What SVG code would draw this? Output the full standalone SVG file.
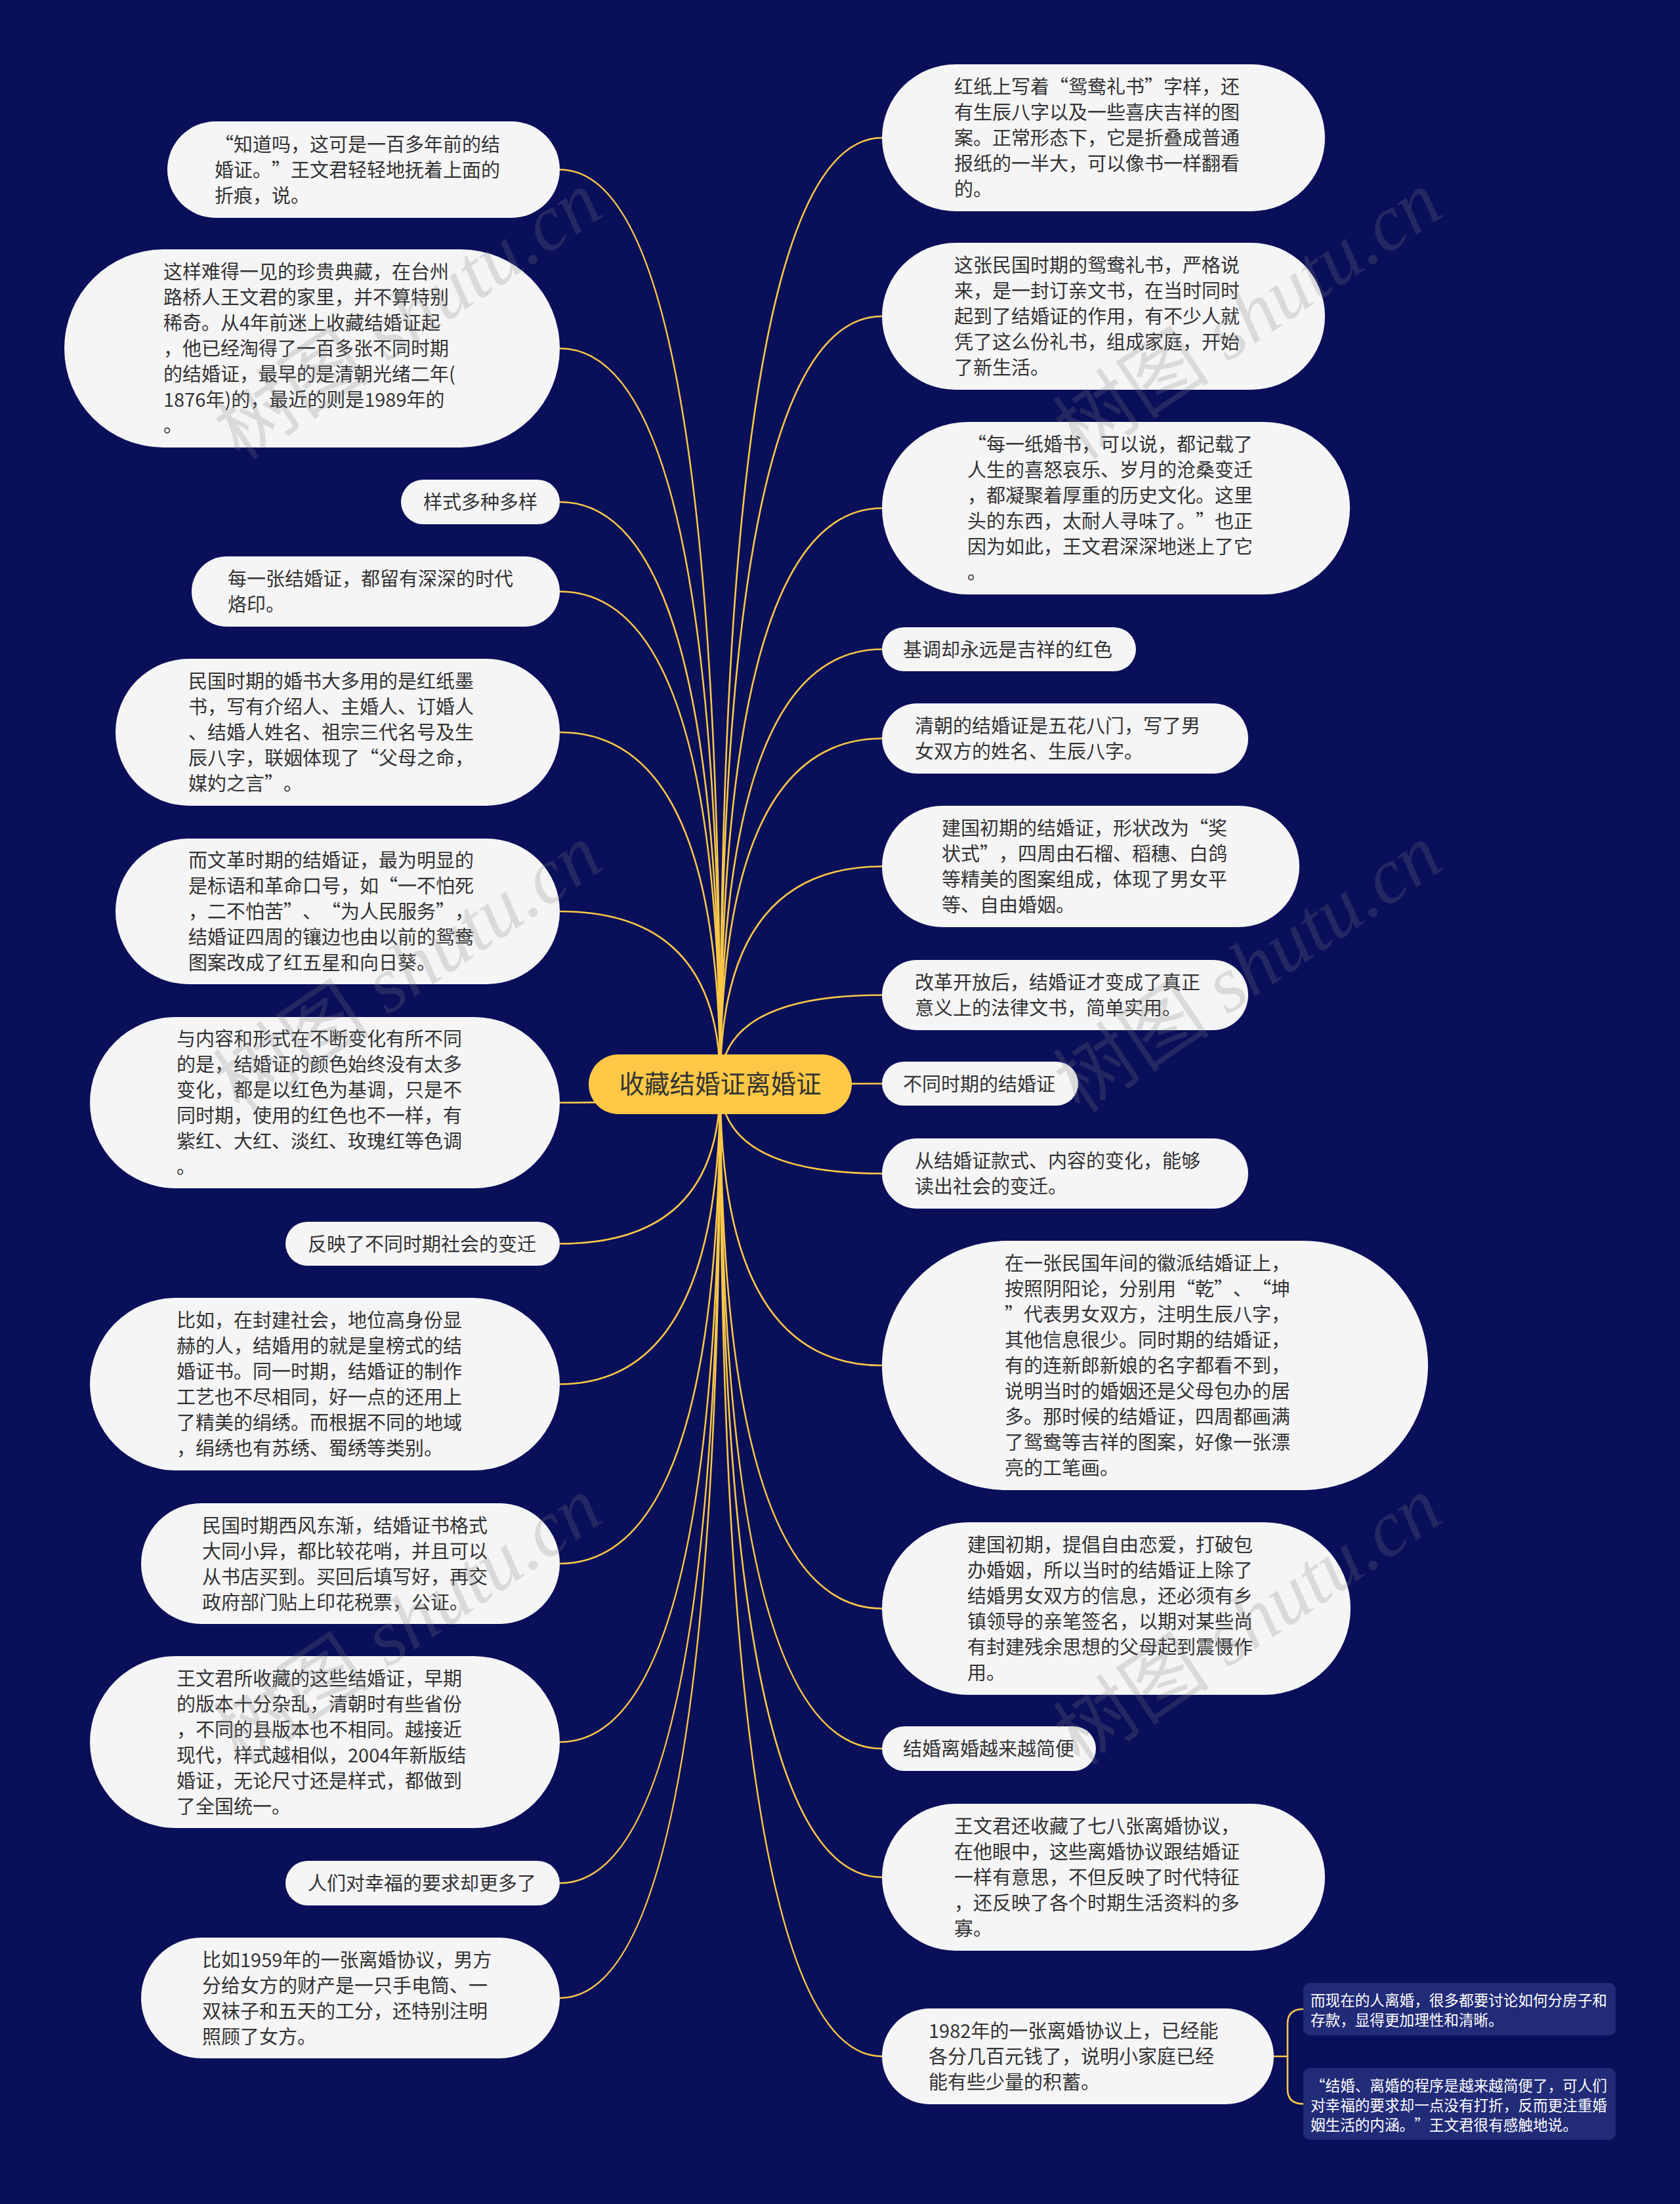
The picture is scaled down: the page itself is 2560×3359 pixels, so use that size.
<svg xmlns="http://www.w3.org/2000/svg" width="2560" height="3359" viewBox="0 0 2560 3359">
<style>
.bg{fill:#0a0f5a}
.node{fill:#f5f5f6}
.t{font-family:"Noto Sans CJK SC","Liberation Sans",sans-serif;font-size:29px;fill:#333333}
.root{fill:#fcc846}
.rt{font-family:"Noto Sans CJK SC","Liberation Sans",sans-serif;font-size:38.5px;fill:#333333}
.sub{fill:#222b78}
.st{font-family:"Noto Sans CJK SC","Liberation Sans",sans-serif;font-size:22.6px;fill:#ffffff}
.link{fill:none;stroke:#fcc846;stroke-width:2.6}
.wm{font-family:"Liberation Serif","Noto Sans CJK SC",serif;font-size:120px;fill:#808080;opacity:0.22}
</style>
<rect class="bg" x="0" y="0" width="2560" height="3359"/>
<g id="connectors">
<path class="link" d="M1097.5 1652 Q1097.5 258.5 853 258.5"/>
<path class="link" d="M1097.5 1652 Q1097.5 531 853 531"/>
<path class="link" d="M1097.5 1652 Q1097.5 765 853 765"/>
<path class="link" d="M1097.5 1652 Q1097.5 901.5 853 901.5"/>
<path class="link" d="M1097.5 1652 Q1097.5 1116 853 1116"/>
<path class="link" d="M1097.5 1652 Q1097.5 1389 853 1389"/>
<path class="link" d="M1097.5 1652 Q1097.5 1680.5 853 1680.5"/>
<path class="link" d="M1097.5 1652 Q1097.5 1895.5 853 1895.5"/>
<path class="link" d="M1097.5 1652 Q1097.5 2109.5 853 2109.5"/>
<path class="link" d="M1097.5 1652 Q1097.5 2383 853 2383"/>
<path class="link" d="M1097.5 1652 Q1097.5 2655 853 2655"/>
<path class="link" d="M1097.5 1652 Q1097.5 2870 853 2870"/>
<path class="link" d="M1097.5 1652 Q1097.5 3045 853 3045"/>
<path class="link" d="M1097.5 1652 Q1097.5 210 1344 210"/>
<path class="link" d="M1097.5 1652 Q1097.5 482 1344 482"/>
<path class="link" d="M1097.5 1652 Q1097.5 774.5 1344 774.5"/>
<path class="link" d="M1097.5 1652 Q1097.5 989.5 1344 989.5"/>
<path class="link" d="M1097.5 1652 Q1097.5 1125.5 1344 1125.5"/>
<path class="link" d="M1097.5 1652 Q1097.5 1320.5 1344 1320.5"/>
<path class="link" d="M1097.5 1652 Q1097.5 1516.5 1344 1516.5"/>
<path class="link" d="M1097.5 1652 Q1097.5 1651.5 1344 1651.5"/>
<path class="link" d="M1097.5 1652 Q1097.5 1788.5 1344 1788.5"/>
<path class="link" d="M1097.5 1652 Q1097.5 2081 1344 2081"/>
<path class="link" d="M1097.5 1652 Q1097.5 2451.5 1344 2451.5"/>
<path class="link" d="M1097.5 1652 Q1097.5 2665 1344 2665"/>
<path class="link" d="M1097.5 1652 Q1097.5 2861 1344 2861"/>
<path class="link" d="M1097.5 1652 Q1097.5 3134 1344 3134"/>
<path class="link" d="M1941 3134 H1962 M1962 3134 V3084 Q1962 3062 1986 3062 M1962 3134 V3184 Q1962 3206.5 1986 3206.5"/>
</g>
<g id="root">
<rect class="root" x="897" y="1607" width="401" height="91" rx="45.5"/>
<text class="rt" x="1097.5" y="1666" text-anchor="middle">收藏结婚证离婚证</text>
</g>
<g id="n1"><rect class="node" x="255" y="185" width="598" height="147" rx="73.5"/>
<text class="t"><tspan x="327" y="230.5">“</tspan><tspan x="356" y="230.5">知道吗，这可是一百多年前的结</tspan><tspan x="327" y="269.5">婚证。</tspan><tspan x="414" y="269.5">”</tspan><tspan x="443" y="269.5">王文君轻轻地抚着上面的</tspan><tspan x="327" y="308.5">折痕，说。</tspan></text></g>
<g id="n2"><rect class="node" x="98" y="380" width="755" height="302" rx="151"/>
<text class="t"><tspan x="249" y="425">这样难得一见的珍贵典藏，在台州</tspan><tspan x="249" y="464">路桥人王文君的家里，并不算特别</tspan><tspan x="249" y="503">稀奇。从4年前迷上收藏结婚证起</tspan><tspan x="249" y="542">，他已经淘得了一百多张不同时期</tspan><tspan x="249" y="581">的结婚证，最早的是清朝光绪二年(</tspan><tspan x="249" y="620">1876年)的，最近的则是1989年的</tspan><tspan x="249" y="659">。</tspan></text></g>
<g id="n3"><rect class="node" x="611" y="731" width="242" height="68" rx="34"/>
<text class="t"><tspan x="645" y="776">样式多种多样</tspan></text></g>
<g id="n4"><rect class="node" x="292" y="848" width="561" height="107" rx="53.5"/>
<text class="t"><tspan x="347" y="893">每一张结婚证，都留有深深的时代</tspan><tspan x="347" y="932">烙印。</tspan></text></g>
<g id="n5"><rect class="node" x="176" y="1004" width="677" height="224" rx="112"/>
<text class="t"><tspan x="287" y="1049">民国时期的婚书大多用的是红纸墨</tspan><tspan x="287" y="1088">书，写有介绍人、主婚人、订婚人</tspan><tspan x="287" y="1127">、结婚人姓名、祖宗三代名号及生</tspan><tspan x="287" y="1166">辰八字，联姻体现了</tspan><tspan x="548" y="1166">“</tspan><tspan x="577" y="1166">父母之命，</tspan><tspan x="287" y="1205">媒妁之言</tspan><tspan x="403" y="1205">”</tspan><tspan x="432" y="1205">。</tspan></text></g>
<g id="n6"><rect class="node" x="176" y="1278" width="677" height="222" rx="111"/>
<text class="t"><tspan x="287" y="1322">而文革时期的结婚证，最为明显的</tspan><tspan x="287" y="1361">是标语和革命口号，如</tspan><tspan x="577" y="1361">“</tspan><tspan x="606" y="1361">一不怕死</tspan><tspan x="287" y="1400">，二不怕苦</tspan><tspan x="432" y="1400">”</tspan><tspan x="461" y="1400">、</tspan><tspan x="490" y="1400">“</tspan><tspan x="519" y="1400">为人民服务</tspan><tspan x="664" y="1400">”</tspan><tspan x="693" y="1400">，</tspan><tspan x="287" y="1439">结婚证四周的镶边也由以前的鸳鸯</tspan><tspan x="287" y="1478">图案改成了红五星和向日葵。</tspan></text></g>
<g id="n7"><rect class="node" x="137" y="1550" width="716" height="261" rx="130.5"/>
<text class="t"><tspan x="269" y="1594">与内容和形式在不断变化有所不同</tspan><tspan x="269" y="1633">的是，结婚证的颜色始终没有太多</tspan><tspan x="269" y="1672">变化，都是以红色为基调，只是不</tspan><tspan x="269" y="1711">同时期，使用的红色也不一样，有</tspan><tspan x="269" y="1750">紫红、大红、淡红、玫瑰红等色调</tspan><tspan x="269" y="1789">。</tspan></text></g>
<g id="n8"><rect class="node" x="435" y="1862" width="418" height="67" rx="33.5"/>
<text class="t"><tspan x="469" y="1906.5">反映了不同时期社会的变迁</tspan></text></g>
<g id="n9"><rect class="node" x="137" y="1978" width="716" height="263" rx="131.5"/>
<text class="t"><tspan x="269" y="2023">比如，在封建社会，地位高身份显</tspan><tspan x="269" y="2062">赫的人，结婚用的就是皇榜式的结</tspan><tspan x="269" y="2101">婚证书。同一时期，结婚证的制作</tspan><tspan x="269" y="2140">工艺也不尽相同，好一点的还用上</tspan><tspan x="269" y="2179">了精美的绢绣。而根据不同的地域</tspan><tspan x="269" y="2218">，绢绣也有苏绣、蜀绣等类别。</tspan></text></g>
<g id="n10"><rect class="node" x="215" y="2291" width="638" height="184" rx="92"/>
<text class="t"><tspan x="308" y="2335.5">民国时期西风东渐，结婚证书格式</tspan><tspan x="308" y="2374.5">大同小异，都比较花哨，并且可以</tspan><tspan x="308" y="2413.5">从书店买到。买回后填写好，再交</tspan><tspan x="308" y="2452.5">政府部门贴上印花税票，公证。</tspan></text></g>
<g id="n11"><rect class="node" x="137" y="2524" width="716" height="262" rx="131"/>
<text class="t"><tspan x="269" y="2568.5">王文君所收藏的这些结婚证，早期</tspan><tspan x="269" y="2607.5">的版本十分杂乱，清朝时有些省份</tspan><tspan x="269" y="2646.5">，不同的县版本也不相同。越接近</tspan><tspan x="269" y="2685.5">现代，样式越相似，2004年新版结</tspan><tspan x="269" y="2724.5">婚证，无论尺寸还是样式，都做到</tspan><tspan x="269" y="2763.5">了全国统一。</tspan></text></g>
<g id="n12"><rect class="node" x="435" y="2836" width="418" height="68" rx="34"/>
<text class="t"><tspan x="469" y="2881">人们对幸福的要求却更多了</tspan></text></g>
<g id="n13"><rect class="node" x="215" y="2953" width="638" height="184" rx="92"/>
<text class="t"><tspan x="308" y="2997.5">比如1959年的一张离婚协议，男方</tspan><tspan x="308" y="3036.5">分给女方的财产是一只手电筒、一</tspan><tspan x="308" y="3075.5">双袜子和五天的工分，还特别注明</tspan><tspan x="308" y="3114.5">照顾了女方。</tspan></text></g>
<g id="r1"><rect class="node" x="1344" y="98" width="675" height="224" rx="112"/>
<text class="t"><tspan x="1454" y="143">红纸上写着</tspan><tspan x="1599" y="143">“</tspan><tspan x="1628" y="143">鸳鸯礼书</tspan><tspan x="1744" y="143">”</tspan><tspan x="1773" y="143">字样，还</tspan><tspan x="1454" y="182">有生辰八字以及一些喜庆吉祥的图</tspan><tspan x="1454" y="221">案。正常形态下，它是折叠成普通</tspan><tspan x="1454" y="260">报纸的一半大，可以像书一样翻看</tspan><tspan x="1454" y="299">的。</tspan></text></g>
<g id="r2"><rect class="node" x="1344" y="370" width="675" height="224" rx="112"/>
<text class="t"><tspan x="1454" y="415">这张民国时期的鸳鸯礼书，严格说</tspan><tspan x="1454" y="454">来，是一封订亲文书，在当时同时</tspan><tspan x="1454" y="493">起到了结婚证的作用，有不少人就</tspan><tspan x="1454" y="532">凭了这么份礼书，组成家庭，开始</tspan><tspan x="1454" y="571">了新生活。</tspan></text></g>
<g id="r3"><rect class="node" x="1344" y="643" width="713" height="263" rx="131.5"/>
<text class="t"><tspan x="1474" y="688">“</tspan><tspan x="1503" y="688">每一纸婚书，可以说，都记载了</tspan><tspan x="1474" y="727">人生的喜怒哀乐、岁月的沧桑变迁</tspan><tspan x="1474" y="766">，都凝聚着厚重的历史文化。这里</tspan><tspan x="1474" y="805">头的东西，太耐人寻味了。</tspan><tspan x="1822" y="805">”</tspan><tspan x="1851" y="805">也正</tspan><tspan x="1474" y="844">因为如此，王文君深深地迷上了它</tspan><tspan x="1474" y="883">。</tspan></text></g>
<g id="r4"><rect class="node" x="1344" y="956" width="387" height="67" rx="33.5"/>
<text class="t"><tspan x="1376" y="1000.5">基调却永远是吉祥的红色</tspan></text></g>
<g id="r5"><rect class="node" x="1344" y="1072" width="558" height="107" rx="53.5"/>
<text class="t"><tspan x="1394" y="1117">清朝的结婚证是五花八门，写了男</tspan><tspan x="1394" y="1156">女双方的姓名、生辰八字。</tspan></text></g>
<g id="r6"><rect class="node" x="1344" y="1228" width="636" height="185" rx="92.5"/>
<text class="t"><tspan x="1435" y="1273">建国初期的结婚证，形状改为</tspan><tspan x="1812" y="1273">“</tspan><tspan x="1841" y="1273">奖</tspan><tspan x="1435" y="1312">状式</tspan><tspan x="1493" y="1312">”</tspan><tspan x="1522" y="1312">，四周由石榴、稻穗、白鸽</tspan><tspan x="1435" y="1351">等精美的图案组成，体现了男女平</tspan><tspan x="1435" y="1390">等、自由婚姻。</tspan></text></g>
<g id="r7"><rect class="node" x="1344" y="1463" width="558" height="107" rx="53.5"/>
<text class="t"><tspan x="1394" y="1508">改革开放后，结婚证才变成了真正</tspan><tspan x="1394" y="1547">意义上的法律文书，简单实用。</tspan></text></g>
<g id="r8"><rect class="node" x="1344" y="1618" width="299" height="67" rx="33.5"/>
<text class="t"><tspan x="1376" y="1662.5">不同时期的结婚证</tspan></text></g>
<g id="r9"><rect class="node" x="1344" y="1735" width="558" height="107" rx="53.5"/>
<text class="t"><tspan x="1394" y="1780">从结婚证款式、内容的变化，能够</tspan><tspan x="1394" y="1819">读出社会的变迁。</tspan></text></g>
<g id="r10"><rect class="node" x="1344" y="1891" width="832" height="380" rx="190"/>
<text class="t"><tspan x="1531" y="1936">在一张民国年间的徽派结婚证上，</tspan><tspan x="1531" y="1975">按照阴阳论，分别用</tspan><tspan x="1792" y="1975">“</tspan><tspan x="1821" y="1975">乾</tspan><tspan x="1850" y="1975">”</tspan><tspan x="1879" y="1975">、</tspan><tspan x="1908" y="1975">“</tspan><tspan x="1937" y="1975">坤</tspan><tspan x="1531" y="2014">”</tspan><tspan x="1560" y="2014">代表男女双方，注明生辰八字，</tspan><tspan x="1531" y="2053">其他信息很少。同时期的结婚证，</tspan><tspan x="1531" y="2092">有的连新郎新娘的名字都看不到，</tspan><tspan x="1531" y="2131">说明当时的婚姻还是父母包办的居</tspan><tspan x="1531" y="2170">多。那时候的结婚证，四周都画满</tspan><tspan x="1531" y="2209">了鸳鸯等吉祥的图案，好像一张漂</tspan><tspan x="1531" y="2248">亮的工笔画。</tspan></text></g>
<g id="r11"><rect class="node" x="1344" y="2320" width="714" height="263" rx="131.5"/>
<text class="t"><tspan x="1474" y="2365">建国初期，提倡自由恋爱，打破包</tspan><tspan x="1474" y="2404">办婚姻，所以当时的结婚证上除了</tspan><tspan x="1474" y="2443">结婚男女双方的信息，还必须有乡</tspan><tspan x="1474" y="2482">镇领导的亲笔签名，以期对某些尚</tspan><tspan x="1474" y="2521">有封建残余思想的父母起到震慑作</tspan><tspan x="1474" y="2560">用。</tspan></text></g>
<g id="r12"><rect class="node" x="1344" y="2631" width="326" height="68" rx="34"/>
<text class="t"><tspan x="1376" y="2676">结婚离婚越来越简便</tspan></text></g>
<g id="r13"><rect class="node" x="1344" y="2749" width="675" height="224" rx="112"/>
<text class="t"><tspan x="1454" y="2794">王文君还收藏了七八张离婚协议，</tspan><tspan x="1454" y="2833">在他眼中，这些离婚协议跟结婚证</tspan><tspan x="1454" y="2872">一样有意思，不但反映了时代特征</tspan><tspan x="1454" y="2911">，还反映了各个时期生活资料的多</tspan><tspan x="1454" y="2950">寡。</tspan></text></g>
<g id="r14"><rect class="node" x="1344" y="3061" width="597" height="146" rx="73"/>
<text class="t"><tspan x="1415" y="3106">1982年的一张离婚协议上，已经能</tspan><tspan x="1415" y="3145">各分几百元钱了，说明小家庭已经</tspan><tspan x="1415" y="3184">能有些少量的积蓄。</tspan></text></g>
<g id="s1"><rect class="sub" x="1986" y="3022" width="476" height="80" rx="10"/>
<text class="st"><tspan x="1997" y="3056.6">而现在的人离婚，很多都要讨论如何分房子和</tspan><tspan x="1997" y="3086.6">存款，显得更加理性和清晰。</tspan></text></g>
<g id="s2"><rect class="sub" x="1986" y="3152" width="476" height="109" rx="10"/>
<text class="st"><tspan x="1997" y="3186.6">“</tspan><tspan x="2019.6" y="3186.6">结婚、离婚的程序是越来越简便了，可人们</tspan><tspan x="1997" y="3216.6">对幸福的要求却一点没有打折，反而更注重婚</tspan><tspan x="1997" y="3246.6">姻生活的内涵。</tspan><tspan x="2155.2" y="3246.6">”</tspan><tspan x="2177.8" y="3246.6">王文君很有感触地说。</tspan></text></g>
<g id="watermarks">
<text class="wm" transform="translate(645,515) rotate(-34)" text-anchor="middle">树图 <tspan font-style="italic">shutu.cn</tspan></text>
<text class="wm" transform="translate(1925,515) rotate(-34)" text-anchor="middle">树图 <tspan font-style="italic">shutu.cn</tspan></text>
<text class="wm" transform="translate(645,1510) rotate(-34)" text-anchor="middle">树图 <tspan font-style="italic">shutu.cn</tspan></text>
<text class="wm" transform="translate(1925,1510) rotate(-34)" text-anchor="middle">树图 <tspan font-style="italic">shutu.cn</tspan></text>
<text class="wm" transform="translate(645,2505) rotate(-34)" text-anchor="middle">树图 <tspan font-style="italic">shutu.cn</tspan></text>
<text class="wm" transform="translate(1925,2505) rotate(-34)" text-anchor="middle">树图 <tspan font-style="italic">shutu.cn</tspan></text>
</g>
</svg>
